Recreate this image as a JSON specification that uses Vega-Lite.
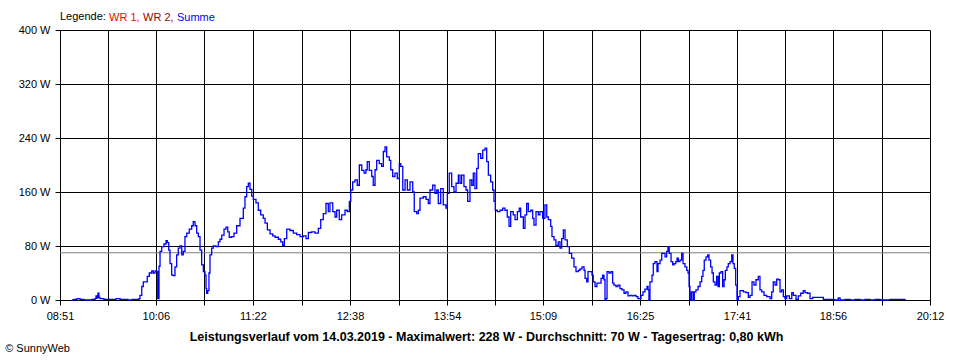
{
  "$schema": "https://vega.github.io/schema/vega-lite/v6.json",
  "width": 870,
  "height": 270,
  "autosize": {"type": "none"},
  "padding": {"left": 60, "top": 30, "right": 30, "bottom": 60},
  "background": "white",
  "config": {
    "view": {"stroke": null},
    "font": "Liberation Sans",
    "axis": {
      "labelFont": "Liberation Sans", "labelFontSize": 11, "labelColor": "black",
      "titleFont": "Liberation Sans", "titleColor": "black",
      "domainColor": "black", "tickColor": "black", "gridColor": "black",
      "gridOpacity": 1, "domainWidth": 1, "tickWidth": 1, "gridWidth": 1, "tickSize": 5
    }
  },
  "title": {
    "text": "© SunnyWeb", "orient": "bottom", "anchor": "start", "dx": -13, "offset": 0,
    "fontSize": 11, "fontWeight": "normal", "color": "black", "font": "Liberation Sans"
  },
  "datasets": {
    "power": [
      {"t":540.4,"w":0,"s":"Summe"},{"t":542.0,"w":1,"s":"Summe"},{"t":544.3,"w":2,"s":"Summe"},{"t":546.7,"w":1,"s":"Summe"},
      {"t":549.8,"w":0,"s":"Summe"},{"t":552.9,"w":0,"s":"Summe"},{"t":556.0,"w":1,"s":"Summe"},{"t":558.4,"w":2,"s":"Summe"},
      {"t":559.2,"w":6,"s":"Summe"},{"t":560.0,"w":3,"s":"Summe"},{"t":560.7,"w":10,"s":"Summe"},{"t":561.5,"w":4,"s":"Summe"},
      {"t":562.3,"w":2,"s":"Summe"},{"t":565.4,"w":1,"s":"Summe"},{"t":568.6,"w":1,"s":"Summe"},{"t":571.7,"w":1,"s":"Summe"},
      {"t":574.8,"w":2,"s":"Summe"},{"t":578.0,"w":1,"s":"Summe"},{"t":581.1,"w":1,"s":"Summe"},{"t":584.2,"w":0,"s":"Summe"},
      {"t":587.4,"w":1,"s":"Summe"},{"t":590.5,"w":1,"s":"Summe"},{"t":592.8,"w":2,"s":"Summe"},{"t":593.6,"w":7,"s":"Summe"},
      {"t":595.0,"w":20,"s":"Summe"},{"t":596.2,"w":27,"s":"Summe"},{"t":598.3,"w":27,"s":"Summe"},{"t":599.3,"w":35,"s":"Summe"},
      {"t":600.9,"w":40,"s":"Summe"},{"t":602.8,"w":43,"s":"Summe"},{"t":604.0,"w":40,"s":"Summe"},{"t":605.4,"w":43,"s":"Summe"},
      {"t":606.7,"w":42,"s":"Summe"},{"t":607.5,"w":2,"s":"Summe"},{"t":608.5,"w":50,"s":"Summe"},{"t":609.3,"w":72,"s":"Summe"},
      {"t":610.6,"w":79,"s":"Summe"},{"t":612.4,"w":83,"s":"Summe"},{"t":614.0,"w":88,"s":"Summe"},{"t":615.0,"w":85,"s":"Summe"},
      {"t":616.1,"w":74,"s":"Summe"},{"t":617.1,"w":54,"s":"Summe"},{"t":618.4,"w":37,"s":"Summe"},{"t":619.7,"w":36,"s":"Summe"},
      {"t":621.0,"w":49,"s":"Summe"},{"t":622.3,"w":67,"s":"Summe"},{"t":623.6,"w":77,"s":"Summe"},{"t":624.9,"w":80,"s":"Summe"},
      {"t":626.3,"w":67,"s":"Summe"},{"t":627.5,"w":72,"s":"Summe"},{"t":628.8,"w":94,"s":"Summe"},{"t":630.2,"w":99,"s":"Summe"},
      {"t":632.2,"w":105,"s":"Summe"},{"t":634.1,"w":110,"s":"Summe"},{"t":635.3,"w":116,"s":"Summe"},{"t":636.7,"w":110,"s":"Summe"},
      {"t":638.0,"w":99,"s":"Summe"},{"t":639.3,"w":94,"s":"Summe"},{"t":640.6,"w":74,"s":"Summe"},{"t":641.9,"w":52,"s":"Summe"},
      {"t":643.2,"w":42,"s":"Summe"},{"t":644.5,"w":37,"s":"Summe"},{"t":645.3,"w":17,"s":"Summe"},{"t":645.8,"w":10,"s":"Summe"},
      {"t":646.6,"w":14,"s":"Summe"},{"t":647.6,"w":40,"s":"Summe"},{"t":648.4,"w":67,"s":"Summe"},{"t":649.7,"w":77,"s":"Summe"},
      {"t":651.0,"w":80,"s":"Summe"},{"t":653.1,"w":79,"s":"Summe"},{"t":654.9,"w":86,"s":"Summe"},{"t":656.2,"w":90,"s":"Summe"},
      {"t":657.6,"w":96,"s":"Summe"},{"t":659.4,"w":105,"s":"Summe"},{"t":660.9,"w":108,"s":"Summe"},{"t":662.3,"w":101,"s":"Summe"},
      {"t":663.5,"w":93,"s":"Summe"},{"t":665.4,"w":94,"s":"Summe"},{"t":667.2,"w":99,"s":"Summe"},{"t":669.3,"w":110,"s":"Summe"},
      {"t":671.9,"w":121,"s":"Summe"},{"t":674.5,"w":136,"s":"Summe"},{"t":675.8,"w":153,"s":"Summe"},{"t":677.1,"w":168,"s":"Summe"},
      {"t":678.4,"w":173,"s":"Summe"},{"t":679.7,"w":164,"s":"Summe"},{"t":681.1,"w":154,"s":"Summe"},{"t":682.3,"w":149,"s":"Summe"},
      {"t":684.4,"w":144,"s":"Summe"},{"t":686.2,"w":133,"s":"Summe"},{"t":688.1,"w":126,"s":"Summe"},{"t":690.1,"w":121,"s":"Summe"},
      {"t":691.5,"w":114,"s":"Summe"},{"t":693.3,"w":104,"s":"Summe"},{"t":695.4,"w":98,"s":"Summe"},{"t":697.5,"w":95,"s":"Summe"},
      {"t":699.3,"w":93,"s":"Summe"},{"t":701.9,"w":90,"s":"Summe"},{"t":703.8,"w":86,"s":"Summe"},{"t":705.3,"w":81,"s":"Summe"},
      {"t":706.6,"w":91,"s":"Summe"},{"t":708.5,"w":105,"s":"Summe"},{"t":711.0,"w":103,"s":"Summe"},{"t":713.6,"w":99,"s":"Summe"},
      {"t":716.3,"w":97,"s":"Summe"},{"t":718.9,"w":94,"s":"Summe"},{"t":721.5,"w":95,"s":"Summe"},{"t":723.6,"w":91,"s":"Summe"},
      {"t":725.4,"w":100,"s":"Summe"},{"t":728.0,"w":101,"s":"Summe"},{"t":730.6,"w":99,"s":"Summe"},{"t":733.2,"w":106,"s":"Summe"},
      {"t":735.1,"w":119,"s":"Summe"},{"t":737.1,"w":128,"s":"Summe"},{"t":739.2,"w":143,"s":"Summe"},{"t":741.0,"w":131,"s":"Summe"},
      {"t":742.3,"w":144,"s":"Summe"},{"t":744.5,"w":131,"s":"Summe"},{"t":746.3,"w":123,"s":"Summe"},{"t":747.6,"w":133,"s":"Summe"},
      {"t":749.6,"w":119,"s":"Summe"},{"t":751.5,"w":126,"s":"Summe"},{"t":754.1,"w":133,"s":"Summe"},{"t":755.9,"w":131,"s":"Summe"},
      {"t":757.5,"w":146,"s":"Summe"},{"t":758.6,"w":163,"s":"Summe"},{"t":760.1,"w":175,"s":"Summe"},{"t":761.9,"w":178,"s":"Summe"},
      {"t":763.7,"w":170,"s":"Summe"},{"t":765.3,"w":200,"s":"Summe"},{"t":767.2,"w":192,"s":"Summe"},{"t":769.0,"w":188,"s":"Summe"},
      {"t":770.5,"w":193,"s":"Summe"},{"t":771.5,"w":205,"s":"Summe"},{"t":773.1,"w":192,"s":"Summe"},{"t":775.0,"w":183,"s":"Summe"},
      {"t":776.2,"w":170,"s":"Summe"},{"t":777.6,"w":193,"s":"Summe"},{"t":778.9,"w":207,"s":"Summe"},{"t":780.9,"w":202,"s":"Summe"},
      {"t":782.8,"w":198,"s":"Summe"},{"t":784.1,"w":220,"s":"Summe"},{"t":785.4,"w":227,"s":"Summe"},{"t":786.7,"w":212,"s":"Summe"},
      {"t":788.8,"w":207,"s":"Summe"},{"t":789.9,"w":193,"s":"Summe"},{"t":791.4,"w":183,"s":"Summe"},{"t":793.2,"w":188,"s":"Summe"},
      {"t":795.0,"w":180,"s":"Summe"},{"t":796.6,"w":202,"s":"Summe"},{"t":797.7,"w":198,"s":"Summe"},{"t":799.3,"w":163,"s":"Summe"},
      {"t":801.1,"w":178,"s":"Summe"},{"t":802.9,"w":163,"s":"Summe"},{"t":805.0,"w":175,"s":"Summe"},{"t":807.1,"w":160,"s":"Summe"},
      {"t":808.3,"w":131,"s":"Summe"},{"t":810.2,"w":128,"s":"Summe"},{"t":811.5,"w":133,"s":"Summe"},{"t":812.8,"w":151,"s":"Summe"},
      {"t":815.4,"w":153,"s":"Summe"},{"t":817.5,"w":149,"s":"Summe"},{"t":819.3,"w":143,"s":"Summe"},{"t":820.6,"w":163,"s":"Summe"},
      {"t":822.7,"w":170,"s":"Summe"},{"t":824.5,"w":158,"s":"Summe"},{"t":825.9,"w":163,"s":"Summe"},{"t":827.1,"w":143,"s":"Summe"},
      {"t":829.0,"w":165,"s":"Summe"},{"t":831.0,"w":141,"s":"Summe"},{"t":833.1,"w":136,"s":"Summe"},{"t":834.2,"w":158,"s":"Summe"},
      {"t":835.7,"w":188,"s":"Summe"},{"t":837.6,"w":168,"s":"Summe"},{"t":839.4,"w":160,"s":"Summe"},{"t":841.0,"w":173,"s":"Summe"},
      {"t":842.8,"w":185,"s":"Summe"},{"t":844.1,"w":173,"s":"Summe"},{"t":845.4,"w":185,"s":"Summe"},{"t":847.2,"w":168,"s":"Summe"},
      {"t":848.8,"w":163,"s":"Summe"},{"t":850.1,"w":146,"s":"Summe"},{"t":851.9,"w":178,"s":"Summe"},{"t":853.3,"w":170,"s":"Summe"},
      {"t":854.5,"w":188,"s":"Summe"},{"t":855.8,"w":165,"s":"Summe"},{"t":857.2,"w":195,"s":"Summe"},{"t":858.4,"w":217,"s":"Summe"},
      {"t":860.3,"w":210,"s":"Summe"},{"t":861.9,"w":222,"s":"Summe"},{"t":863.7,"w":225,"s":"Summe"},{"t":865.0,"w":205,"s":"Summe"},
      {"t":866.3,"w":185,"s":"Summe"},{"t":868.1,"w":175,"s":"Summe"},{"t":869.7,"w":163,"s":"Summe"},{"t":870.7,"w":146,"s":"Summe"},
      {"t":871.7,"w":133,"s":"Summe"},{"t":873.3,"w":131,"s":"Summe"},{"t":875.4,"w":133,"s":"Summe"},{"t":877.5,"w":136,"s":"Summe"},
      {"t":879.3,"w":133,"s":"Summe"},{"t":881.1,"w":123,"s":"Summe"},{"t":882.5,"w":109,"s":"Summe"},{"t":883.8,"w":131,"s":"Summe"},
      {"t":885.8,"w":126,"s":"Summe"},{"t":887.2,"w":119,"s":"Summe"},{"t":889.0,"w":131,"s":"Summe"},{"t":890.5,"w":136,"s":"Summe"},
      {"t":891.6,"w":123,"s":"Summe"},{"t":893.7,"w":106,"s":"Summe"},{"t":895.0,"w":126,"s":"Summe"},{"t":896.3,"w":143,"s":"Summe"},
      {"t":897.6,"w":131,"s":"Summe"},{"t":899.5,"w":133,"s":"Summe"},{"t":901.0,"w":121,"s":"Summe"},{"t":902.0,"w":111,"s":"Summe"},
      {"t":903.6,"w":131,"s":"Summe"},{"t":905.4,"w":126,"s":"Summe"},{"t":906.7,"w":131,"s":"Summe"},{"t":908.8,"w":121,"s":"Summe"},
      {"t":910.6,"w":141,"s":"Summe"},{"t":912.0,"w":123,"s":"Summe"},{"t":913.2,"w":119,"s":"Summe"},{"t":915.1,"w":109,"s":"Summe"},
      {"t":916.1,"w":94,"s":"Summe"},{"t":917.7,"w":89,"s":"Summe"},{"t":919.2,"w":81,"s":"Summe"},{"t":921.0,"w":86,"s":"Summe"},
      {"t":922.4,"w":77,"s":"Summe"},{"t":923.7,"w":91,"s":"Summe"},{"t":925.0,"w":104,"s":"Summe"},{"t":926.3,"w":89,"s":"Summe"},
      {"t":928.1,"w":79,"s":"Summe"},{"t":929.7,"w":69,"s":"Summe"},{"t":931.5,"w":62,"s":"Summe"},{"t":933.3,"w":49,"s":"Summe"},
      {"t":934.9,"w":42,"s":"Summe"},{"t":936.7,"w":44,"s":"Summe"},{"t":938.0,"w":46,"s":"Summe"},{"t":939.6,"w":49,"s":"Summe"},
      {"t":941.2,"w":44,"s":"Summe"},{"t":942.0,"w":32,"s":"Summe"},{"t":943.3,"w":27,"s":"Summe"},{"t":944.3,"w":42,"s":"Summe"},
      {"t":945.9,"w":42,"s":"Summe"},{"t":947.4,"w":37,"s":"Summe"},{"t":948.4,"w":27,"s":"Summe"},{"t":949.8,"w":20,"s":"Summe"},
      {"t":951.3,"w":25,"s":"Summe"},{"t":952.9,"w":25,"s":"Summe"},{"t":954.5,"w":32,"s":"Summe"},{"t":955.8,"w":37,"s":"Summe"},
      {"t":956.8,"w":30,"s":"Summe"},{"t":957.6,"w":0,"s":"Summe"},{"t":958.4,"w":2,"s":"Summe"},{"t":959.2,"w":42,"s":"Summe"},
      {"t":960.7,"w":40,"s":"Summe"},{"t":962.3,"w":42,"s":"Summe"},{"t":963.6,"w":25,"s":"Summe"},{"t":964.6,"w":22,"s":"Summe"},
      {"t":966.2,"w":20,"s":"Summe"},{"t":967.8,"w":22,"s":"Summe"},{"t":969.3,"w":17,"s":"Summe"},{"t":970.9,"w":15,"s":"Summe"},
      {"t":972.5,"w":10,"s":"Summe"},{"t":974.0,"w":12,"s":"Summe"},{"t":975.6,"w":6,"s":"Summe"},{"t":977.2,"w":7,"s":"Summe"},
      {"t":978.7,"w":6,"s":"Summe"},{"t":980.3,"w":7,"s":"Summe"},{"t":981.9,"w":5,"s":"Summe"},{"t":983.4,"w":2,"s":"Summe"},
      {"t":985.0,"w":2,"s":"Summe"},{"t":985.8,"w":7,"s":"Summe"},{"t":987.3,"w":12,"s":"Summe"},{"t":988.9,"w":16,"s":"Summe"},
      {"t":990.5,"w":20,"s":"Summe"},{"t":991.3,"w":15,"s":"Summe"},{"t":992.0,"w":0,"s":"Summe"},{"t":992.8,"w":27,"s":"Summe"},
      {"t":994.4,"w":37,"s":"Summe"},{"t":995.4,"w":54,"s":"Summe"},{"t":996.7,"w":57,"s":"Summe"},{"t":998.3,"w":42,"s":"Summe"},
      {"t":999.1,"w":54,"s":"Summe"},{"t":1000.7,"w":59,"s":"Summe"},{"t":1002.0,"w":69,"s":"Summe"},{"t":1003.2,"w":69,"s":"Summe"},
      {"t":1004.6,"w":64,"s":"Summe"},{"t":1005.9,"w":72,"s":"Summe"},{"t":1006.9,"w":79,"s":"Summe"},{"t":1007.9,"w":69,"s":"Summe"},
      {"t":1009.3,"w":57,"s":"Summe"},{"t":1010.6,"w":52,"s":"Summe"},{"t":1011.6,"w":54,"s":"Summe"},{"t":1013.0,"w":57,"s":"Summe"},
      {"t":1014.0,"w":62,"s":"Summe"},{"t":1015.0,"w":57,"s":"Summe"},{"t":1016.3,"w":59,"s":"Summe"},{"t":1017.6,"w":69,"s":"Summe"},
      {"t":1018.7,"w":54,"s":"Summe"},{"t":1020.2,"w":49,"s":"Summe"},{"t":1021.6,"w":44,"s":"Summe"},{"t":1022.6,"w":40,"s":"Summe"},
      {"t":1023.4,"w":20,"s":"Summe"},{"t":1024.1,"w":0,"s":"Summe"},{"t":1025.2,"w":12,"s":"Summe"},{"t":1026.5,"w":0,"s":"Summe"},
      {"t":1027.5,"w":12,"s":"Summe"},{"t":1028.8,"w":15,"s":"Summe"},{"t":1030.4,"w":20,"s":"Summe"},{"t":1032.0,"w":27,"s":"Summe"},
      {"t":1033.3,"w":35,"s":"Summe"},{"t":1034.3,"w":44,"s":"Summe"},{"t":1035.3,"w":59,"s":"Summe"},{"t":1036.7,"w":64,"s":"Summe"},
      {"t":1038.0,"w":67,"s":"Summe"},{"t":1039.0,"w":59,"s":"Summe"},{"t":1040.3,"w":49,"s":"Summe"},{"t":1041.4,"w":40,"s":"Summe"},
      {"t":1042.4,"w":27,"s":"Summe"},{"t":1043.7,"w":22,"s":"Summe"},{"t":1045.0,"w":35,"s":"Summe"},{"t":1046.1,"w":20,"s":"Summe"},
      {"t":1047.1,"w":40,"s":"Summe"},{"t":1048.4,"w":42,"s":"Summe"},{"t":1049.7,"w":20,"s":"Summe"},{"t":1050.8,"w":30,"s":"Summe"},
      {"t":1051.8,"w":44,"s":"Summe"},{"t":1053.1,"w":49,"s":"Summe"},{"t":1054.1,"w":54,"s":"Summe"},{"t":1055.5,"w":57,"s":"Summe"},
      {"t":1056.8,"w":67,"s":"Summe"},{"t":1057.8,"w":54,"s":"Summe"},{"t":1058.8,"w":47,"s":"Summe"},{"t":1059.9,"w":22,"s":"Summe"},
      {"t":1060.9,"w":0,"s":"Summe"},{"t":1062.0,"w":5,"s":"Summe"},{"t":1063.3,"w":14,"s":"Summe"},{"t":1065.9,"w":12,"s":"Summe"},
      {"t":1068.0,"w":11,"s":"Summe"},{"t":1069.8,"w":4,"s":"Summe"},{"t":1071.1,"w":7,"s":"Summe"},{"t":1072.7,"w":27,"s":"Summe"},
      {"t":1074.2,"w":22,"s":"Summe"},{"t":1075.8,"w":30,"s":"Summe"},{"t":1077.6,"w":35,"s":"Summe"},{"t":1078.9,"w":15,"s":"Summe"},
      {"t":1080.3,"w":12,"s":"Summe"},{"t":1082.1,"w":7,"s":"Summe"},{"t":1084.2,"w":5,"s":"Summe"},{"t":1086.8,"w":2,"s":"Summe"},
      {"t":1088.1,"w":12,"s":"Summe"},{"t":1089.3,"w":27,"s":"Summe"},{"t":1090.7,"w":22,"s":"Summe"},{"t":1092.0,"w":31,"s":"Summe"},
      {"t":1093.3,"w":30,"s":"Summe"},{"t":1094.6,"w":12,"s":"Summe"},{"t":1095.9,"w":15,"s":"Summe"},{"t":1097.2,"w":5,"s":"Summe"},
      {"t":1098.5,"w":2,"s":"Summe"},{"t":1099.8,"w":6,"s":"Summe"},{"t":1101.9,"w":2,"s":"Summe"},{"t":1103.8,"w":11,"s":"Summe"},
      {"t":1105.0,"w":7,"s":"Summe"},{"t":1107.1,"w":1,"s":"Summe"},{"t":1108.9,"w":6,"s":"Summe"},{"t":1110.8,"w":10,"s":"Summe"},
      {"t":1112.8,"w":14,"s":"Summe"},{"t":1114.2,"w":11,"s":"Summe"},{"t":1116.0,"w":10,"s":"Summe"},{"t":1118.1,"w":2,"s":"Summe"},
      {"t":1120.2,"w":4,"s":"Summe"},{"t":1123.3,"w":4,"s":"Summe"},{"t":1127.2,"w":4,"s":"Summe"},{"t":1128.5,"w":1,"s":"Summe"},
      {"t":1133.7,"w":1,"s":"Summe"},{"t":1136.9,"w":0,"s":"Summe"},{"t":1140.2,"w":3,"s":"Summe"},{"t":1141.6,"w":0,"s":"Summe"},
      {"t":1145.5,"w":1,"s":"Summe"},{"t":1149.4,"w":0,"s":"Summe"},{"t":1153.3,"w":1,"s":"Summe"},{"t":1157.2,"w":0,"s":"Summe"},
      {"t":1161.1,"w":1,"s":"Summe"},{"t":1165.0,"w":0,"s":"Summe"},{"t":1169.0,"w":1,"s":"Summe"},{"t":1172.9,"w":0,"s":"Summe"},
      {"t":1176.8,"w":0,"s":"Summe"},{"t":1180.7,"w":1,"s":"Summe"},{"t":1184.6,"w":1,"s":"Summe"},{"t":1188.5,"w":1,"s":"Summe"},
      {"t":1192.4,"w":0,"s":"Summe"}
    ],
    "average": [{"avg": 70}]
  },
  "layer": [
    {
      "data": {"name": "average"},
      "mark": {"type": "rule", "color": "#808080", "strokeWidth": 1},
      "encoding": {
        "y": {"field": "avg", "type": "quantitative", "scale": {"domain": [0, 400]}}
      }
    },
    {
      "data": {"name": "power"},
      "mark": {"type": "line", "strokeWidth": 1.3, "interpolate": "step-after"},
      "encoding": {
        "x": {
          "field": "t", "type": "quantitative",
          "scale": {"domain": [531, 1212], "nice": false, "zero": false},
          "axis": {
            "values": [531, 568.5, 606, 644.1, 682, 720.1, 758, 796.1, 834, 871.5, 909, 947.1, 985, 1023.1, 1061, 1098.5, 1136, 1174.1, 1212],
            "labelExpr": "datum.value % 1 != 0 ? '' : (datum.value < 600 ? '0' : '') + floor(datum.value / 60) + ':' + (datum.value % 60 < 10 ? '0' : '') + (datum.value % 60)",
            "labelOverlap": false, "labelFlush": false, "labelPadding": 5,
            "grid": true,
            "title": "Leistungsverlauf vom 14.03.2019 - Maximalwert: 228 W - Durchschnitt: 70 W - Tagesertrag: 0,80 kWh",
            "titleFontSize": 12.5, "titleFontWeight": "bold", "titlePadding": 9, "titleX": 426, "titleAlign": "center"
          }
        },
        "y": {
          "field": "w", "type": "quantitative",
          "scale": {"domain": [0, 400], "nice": false},
          "axis": {
            "values": [0, 80, 160, 240, 320, 400],
            "labelExpr": "datum.value + ' W'",
            "labelOverlap": false, "labelFlush": false, "labelPadding": 5,
            "grid": true, "title": null
          }
        },
        "color": {
          "field": "s", "type": "nominal",
          "scale": {"domain": ["WR 1", "WR 2", "Summe"], "range": ["#ff0000", "#990000", "#0000ff"]},
          "legend": {
            "orient": "none", "legendX": 0, "legendY": -18,
            "direction": "horizontal", "title": "Legende:", "titleOrient": "left",
            "titleFontSize": 11, "titleFontWeight": "normal", "titleColor": "black", "titleFont": "Liberation Sans",
            "titlePadding": 2, "labelFontSize": 11, "labelFont": "Liberation Sans",
            "symbolSize": 0, "symbolOpacity": 0, "symbolStrokeWidth": 0,
            "labelOffset": -10, "columnPadding": 2, "gridAlign": "none",
            "labelExpr": "datum.label == 'Summe' ? 'Summe' : datum.label + ','",
            "encode": {
              "labels": {"update": {"fill": {"signal": "datum.value === 'WR 1' ? '#ff0000' : datum.value === 'WR 2' ? '#990000' : '#0000ff'"}}}
            }
          }
        }
      }
    }
  ]
}
